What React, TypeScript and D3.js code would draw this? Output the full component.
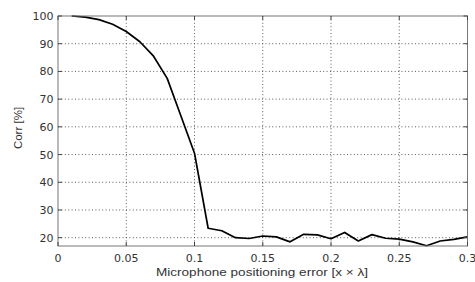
import * as d3 from 'd3';
import { useEffect, useRef } from 'react';

// positioning error (x λ) and correlation (%)
const errs = [0.01, 0.02, 0.03, 0.04, 0.05, 0.06, 0.07, 0.08, 0.09, 0.1,
  0.11, 0.12, 0.13, 0.14, 0.15, 0.16, 0.17, 0.18, 0.19, 0.2,
  0.21, 0.22, 0.23, 0.24, 0.25, 0.26, 0.27, 0.28, 0.29, 0.3];
const corr = [100, 99.6, 98.7, 97, 94.4, 90.7, 85.5, 77.5, 64, 50.5,
  23.4, 22.5, 20, 19.7, 20.6, 20.3, 18.5, 21.2, 21, 19.6,
  21.9, 18.8, 21.1, 19.8, 19.5, 18.5, 17.1, 18.8, 19.4, 20.3];
const xTicks = [0, 0.05, 0.1, 0.15, 0.2, 0.25, 0.3];
const xTickLabels = ['0', '0.05', '0.1', '0.15', '0.2', '0.25', '0.3'];
const yTicks = [20, 30, 40, 50, 60, 70, 80, 90, 100];

function App() {
  const ref = useRef<SVGSVGElement>(null);

  useEffect(() => {
    const svg = d3.select(ref.current);
    svg.selectAll('*').remove();
    const [width, height] = [475, 282];
    const margin = { top: 16, right: 7.5, bottom: 36, left: 58 };
    const font = '"Liberation Sans", Arial, sans-serif';
    const tickFont = '"DejaVu Sans", sans-serif';

    const x = d3.scaleLinear().domain([0, 0.3]).range([margin.left, width - margin.right]);
    const y = d3.scaleLinear().domain([17, 100]).range([height - margin.bottom, margin.top]);
    const [x0, x1] = x.range();
    const [y0, y1] = y.range();

    // grid
    const grid = svg.append('g').attr('stroke', '#333').attr('stroke-width', 0.8)
      .attr('stroke-dasharray', '1,2.4');
    grid.selectAll('.gx').data(xTicks.slice(1, -1)).join('line')
      .attr('x1', d => x(d)).attr('x2', d => x(d)).attr('y1', y1).attr('y2', y0);
    grid.selectAll('.gy').data(yTicks.slice(0, -1)).join('line')
      .attr('class', 'gy')
      .attr('x1', x0).attr('x2', x1).attr('y1', d => y(d)).attr('y2', d => y(d));

    // curve
    const line = d3.line<number>().x((_, i) => x(errs[i])).y(d => y(d));
    svg.append('path').datum(corr).attr('d', line).attr('fill', 'none')
      .attr('stroke', '#000').attr('stroke-width', 1.7).attr('stroke-linejoin', 'round');

    // box + ticks
    svg.append('rect').attr('x', x0).attr('y', y1).attr('width', x1 - x0).attr('height', y0 - y1)
      .attr('fill', 'none').attr('stroke', '#777').attr('stroke-width', 1);
    const tk = svg.append('g').attr('stroke', '#444').attr('stroke-width', 1);
    xTicks.forEach(t => {
      tk.append('line').attr('x1', x(t)).attr('x2', x(t)).attr('y1', y0).attr('y2', y0 - 4);
      tk.append('line').attr('x1', x(t)).attr('x2', x(t)).attr('y1', y1).attr('y2', y1 + 4);
    });
    yTicks.forEach(t => {
      tk.append('line').attr('x1', x0).attr('x2', x0 + 4).attr('y1', y(t)).attr('y2', y(t));
      tk.append('line').attr('x1', x1).attr('x2', x1 - 4).attr('y1', y(t)).attr('y2', y(t));
    });

    // tick labels
    svg.selectAll('.xl').data(xTicks).join('text')
      .attr('x', d => x(d)).attr('y', 262).attr('text-anchor', 'middle')
      .attr('font-family', tickFont).attr('font-size', 11).attr('fill', '#333')
      .text((_, i) => xTickLabels[i]);
    svg.selectAll('.yl').data(yTicks).join('text')
      .attr('x', 53.5).attr('y', d => y(d) + 4).attr('text-anchor', 'end')
      .attr('font-family', tickFont).attr('font-size', 11).attr('fill', '#333')
      .text(d => d);

    // axis titles
    svg.append('text').attr('x', 262).attr('y', 276).attr('text-anchor', 'middle')
      .attr('font-family', font).attr('font-size', 11.5).attr('fill', '#333')
      .attr('textLength', 212).attr('lengthAdjust', 'spacingAndGlyphs')
      .text('Microphone positioning error [x × λ]');
    svg.append('text').attr('transform', 'translate(21.5,128) rotate(-90)')
      .attr('text-anchor', 'middle')
      .attr('font-family', font).attr('font-size', 11.5).attr('fill', '#333')
      .text('Corr [%]');
  }, []);

  return (
    <svg ref={ref} width={475} height={282}
      style={{ position: 'absolute', left: 0, top: 0, background: '#fff' }} />
  );
}

export default App;
